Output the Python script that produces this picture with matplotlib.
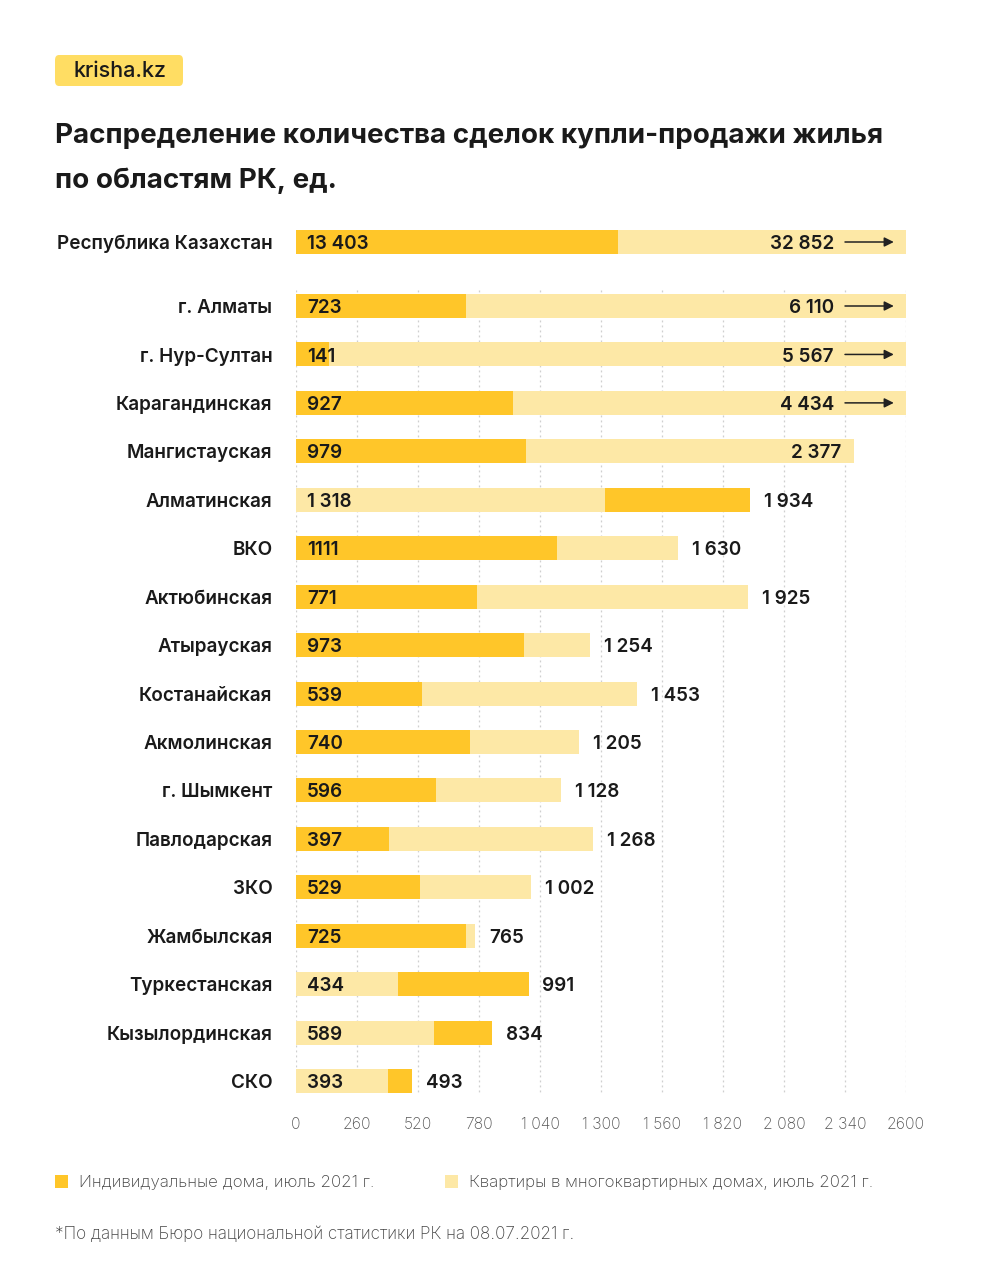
import matplotlib
matplotlib.use("Agg")
import matplotlib.pyplot as plt
from matplotlib.patches import Rectangle, FancyBboxPatch

# ---------------- data ----------------
regions = ["Республика Казахстан", "г. Алматы", "г. Нур-Султан", "Карагандинская",
           "Мангистауская", "Алматинская", "ВКО", "Актюбинская", "Атырауская",
           "Костанайская", "Акмолинская", "г. Шымкент", "Павлодарская", "ЗКО",
           "Жамбылская", "Туркестанская", "Кызылординская", "СКО"]
individual = [13403, 723, 141, 927, 979, 1934, 1111, 771, 973, 539, 740, 596, 397,
              529, 725, 991, 834, 493]
apartments = [32852, 6110, 5567, 4434, 2377, 1318, 1630, 1925, 1254, 1453, 1205, 1128,
              1268, 1002, 765, 434, 589, 393]
tick_values = [0, 260, 520, 780, 1040, 1300, 1560, 1820, 2080, 2340, 2600]
tick_labels = ["0", "260", "520", "780", "1 040", "1 300", "1 560", "1 820",
               "2 080", "2 340", "2600"]
label_override = {1111: "1111"}
# the national total row is drawn at a reduced scale in the original
row_scale = [0.1025] + [1.0] * 17

title = "Распределение количества сделок купли-продажи жилья\nпо областям РК, ед."
legend_labels = ["Индивидуальные дома, июль 2021 г.",
                 "Квартиры в многоквартирных домах, июль 2021 г."]
footnote = "*По данным Бюро национальной статистики РК на 08.07.2021 г."

# ---------------- style ----------------
DARK = "#FFC629"
LIGHT = "#FDE8A6"
LOGO = "#FFDD63"
TXT = "#1a1a1a"
FONT = ["Inter", "DejaVu Sans"]
plt.rcParams["font.family"] = FONT

W, H = 1000, 1270
fig = plt.figure(figsize=(W / 100, H / 100), dpi=100)

ax_top_px, ax_bot_px = 220, 1100
x0_px, x1_px = 296, 906
row_px = 48.44
rep_px = 242
ax = fig.add_axes([x0_px / W, 1 - ax_bot_px / H, (x1_px - x0_px) / W,
                   (ax_bot_px - ax_top_px) / H])
ax.set_xlim(0, 2600)
ax.set_ylim((ax_bot_px - rep_px) / row_px, (ax_top_px - rep_px) / row_px)
for s in ax.spines.values():
    s.set_visible(False)
ax.set_yticks([])
ax.set_xticks(tick_values)
ax.set_xticklabels(tick_labels, fontsize=11.3, color="#555555", fontweight="light")
ax.tick_params(axis="x", length=0, pad=12.5)

pos = [0.0] + [(306 - rep_px) / row_px + i for i in range(17)]
cap = 2610
bar_h = 24 / row_px
VFS = 13.6
VW = "semibold"
DY = -1.5

def fmt(v):
    if v in label_override:
        return label_override[v]
    return f"{v:,}".replace(",", " ")

# grid
ax.vlines(tick_values, (290 - rep_px) / row_px, (1095 - rep_px) / row_px,
          colors="#cfcfcf", linestyles=(0, (1.5, 2.5)), linewidth=0.9, zorder=0)

for i, (name, ind, apt) in enumerate(zip(regions, individual, apartments)):
    y = pos[i]
    sc = row_scale[i]
    ind_len = min(ind * sc, cap)
    apt_len = min(apt * sc, cap)
    if ind >= apt:
        back_len, back_col, back_val = ind_len, DARK, ind
        front_len, front_col, front_val = apt_len, LIGHT, apt
    else:
        back_len, back_col, back_val = apt_len, LIGHT, apt
        front_len, front_col, front_val = ind_len, DARK, ind
    ax.barh(y, back_len, height=bar_h, color=back_col, zorder=2, linewidth=0)
    ax.barh(y, front_len, height=bar_h, color=front_col, zorder=3, linewidth=0)

    ax.annotate(fmt(front_val), xy=(0, y), xytext=(8, DY), textcoords="offset points",
                ha="left", va="center", fontsize=VFS, fontweight=VW,
                color=TXT, zorder=5)
    capped = back_val * sc > cap
    if capped:
        a0, a1 = 2340, 2548
        ax.annotate("", xy=(a1, y), xytext=(a0, y),
                    arrowprops=dict(arrowstyle="-|>", color="#222222", lw=1.1,
                                    mutation_scale=14, shrinkA=0, shrinkB=0),
                    zorder=5)
        ax.annotate(fmt(back_val), xy=(a0, y), xytext=(-8, DY),
                    textcoords="offset points", ha="right", va="center",
                    fontsize=VFS, fontweight=VW, color=TXT, zorder=5)
    elif back_len > 2200:
        ax.annotate(fmt(back_val), xy=(back_len, y), xytext=(-9, DY),
                    textcoords="offset points", ha="right", va="center",
                    fontsize=VFS, fontweight=VW, color=TXT, zorder=5)
    else:
        ax.annotate(fmt(back_val), xy=(back_len, y), xytext=(10, DY),
                    textcoords="offset points", ha="left", va="center",
                    fontsize=VFS, fontweight=VW, color=TXT, zorder=5)
    # category label
    ax.annotate(name, xy=(0, y), xytext=(-17, DY), textcoords="offset points",
                ha="right", va="center", fontsize=VFS, fontweight=VW,
                color=TXT)

# logo
fig.add_artist(FancyBboxPatch((55 / W, 1 - 86 / H), 128 / W, 31 / H,
                              boxstyle="round,pad=0,rounding_size=0.004",
                              transform=fig.transFigure, facecolor=LOGO,
                              edgecolor="none"))
fig.text(120 / W, 1 - 71 / H, "krisha.kz", ha="center", va="center",
         fontsize=15.5, fontweight="medium", color=TXT)

# title
fig.text(55 / W, 1 - 136 / H, title.split("\n")[0], ha="left", va="center",
         fontsize=20, fontweight="bold", color=TXT)
fig.text(55 / W, 1 - 181 / H, title.split("\n")[1], ha="left", va="center",
         fontsize=20, fontweight="bold", color=TXT)

# legend
for (sx, tx), lab, col in zip([(55, 79), (445, 469)], legend_labels, [DARK, LIGHT]):
    fig.add_artist(Rectangle((sx / W, 1 - 1188 / H), 13 / W, 13 / H,
                             transform=fig.transFigure, facecolor=col,
                             edgecolor="none"))
    fig.text(tx / W, 1 - 1182 / H, lab, ha="left", va="center", fontsize=12.2,
             fontweight="light", color="#444444")

fig.text(55 / W, 1 - 1234.5 / H, footnote, ha="left", va="center", fontsize=12.3,
         fontweight="light", color="#444444")

fig.savefig("out.png", dpi=100, facecolor="white")
